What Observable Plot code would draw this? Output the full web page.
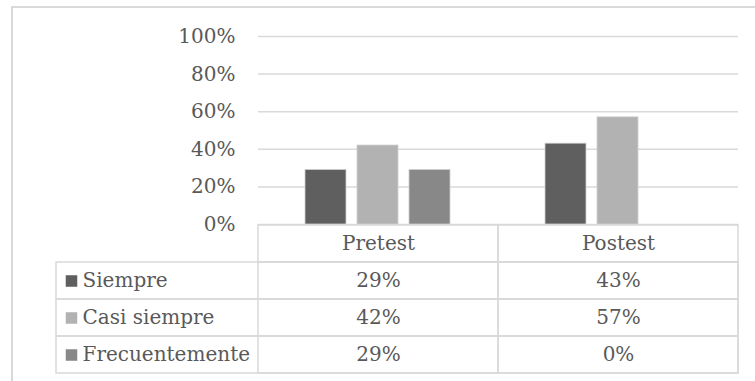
<!DOCTYPE html>
<html>
<head>
<meta charset="utf-8">
<script src="https://cdn.jsdelivr.net/npm/d3@7"></script>
<script src="https://cdn.jsdelivr.net/npm/@observablehq/plot@0.6"></script>
<style>
  html, body { margin: 0; padding: 0; background: #fff; }
  #wrap { position: relative; width: 755px; height: 381px; overflow: hidden; background: #fff; }
  #border { position: absolute; left: 11px; top: 6px; width: 800px; height: 400px; border-left: 2px solid #d9d9d9; border-top: 2px solid #d9d9d9; }
  .layer { position: absolute; left: 0; top: 0; }
  .layer svg { background: transparent !important; }
</style>
</head>
<body>
<div id="wrap"><div id="border"></div></div>
<script>
const categories = ["Pretest", "Postest"];
const series = ["Siempre", "Casi siempre", "Frecuentemente"];
const pretest = [29, 42, 29];
const postest = [43, 57, 0];
const yTicks = [0, 20, 40, 60, 80, 100];
const colors = ["#5f5f5f", "#b2b2b2", "#888888"];

const valuesByCategory = {Pretest: pretest, Postest: postest};
const rows = [];
for (const c of categories) series.forEach((s, i) => rows.push({category: c, series: s, value: valuesByCategory[c][i]}));

const font = "'DejaVu Serif', serif";
const textColor = "#595959";
const lineColor = "#d9d9d9";
const W = 755, H = 381;

const chart = Plot.plot({
  width: W, height: H,
  marginLeft: 258, marginRight: 17, marginTop: 36, marginBottom: 157,
  style: {fontFamily: font, fontSize: "20px", color: textColor, background: "transparent"},
  fx: {domain: categories, padding: 0, axis: null},
  x: {domain: series, paddingInner: 0.2075, paddingOuter: 0.868, axis: null},
  y: {domain: [0, 100], ticks: yTicks, tickFormat: d => d + "%", tickSize: 0, tickPadding: 23, label: null, line: false},
  color: {domain: series, range: colors},
  marks: [
    Plot.ruleY(yTicks, {stroke: lineColor, strokeWidth: 1.5}),
    Plot.barY(rows, {fx: "category", x: "series", y: "value", fill: "series", stroke: "#d0d0d0", strokeWidth: 0.8, filter: d => d.value > 0}),
    Plot.axisY({ticks: yTicks, tickFormat: d => d + "%", tickSize: 0, tickPadding: 23, fill: textColor, fontSize: 20, label: null})
  ]
});

const rowDomain = ["_header", ...series];
const table = Plot.plot({
  width: W, height: H,
  marginLeft: 56, marginRight: 17, marginTop: 224, marginBottom: 8,
  style: {fontFamily: font, fontSize: "20px", color: textColor, background: "transparent"},
  x: {domain: categories, range: [258, 738], padding: 0, axis: null},
  y: {domain: rowDomain, padding: 0, axis: null},
  color: {domain: series, range: colors},
  marks: [
    Plot.cell(series, {y: d => d, fill: "none", stroke: lineColor, strokeWidth: 1.5, inset: 0}),
    Plot.cell(categories, {x: d => d, y: () => "_header", fill: "none", stroke: lineColor, strokeWidth: 1.5, inset: 0}),
    Plot.cell(rows, {x: "category", y: "series", fill: "none", stroke: lineColor, strokeWidth: 1.5, inset: 0}),
    Plot.text(categories, {x: d => d, y: () => "_header", text: d => d, fill: textColor, fontSize: 20}),
    Plot.text(rows, {x: "category", y: "series", text: d => d.value + "%", fill: textColor, fontSize: 20}),
    Plot.dot(series, {y: d => d, frameAnchor: "left", dx: 15, symbol: "square", r: 6.5, fill: d => d, stroke: null}),
    Plot.text(series, {y: d => d, text: d => d, frameAnchor: "left", dx: 26, textAnchor: "start", fill: textColor, fontSize: 20})
  ]
});

for (const p of [chart, table]) {
  const d = document.createElement("div");
  d.className = "layer";
  d.appendChild(p);
  document.getElementById("wrap").appendChild(d);
}
</script>
</body>
</html>
